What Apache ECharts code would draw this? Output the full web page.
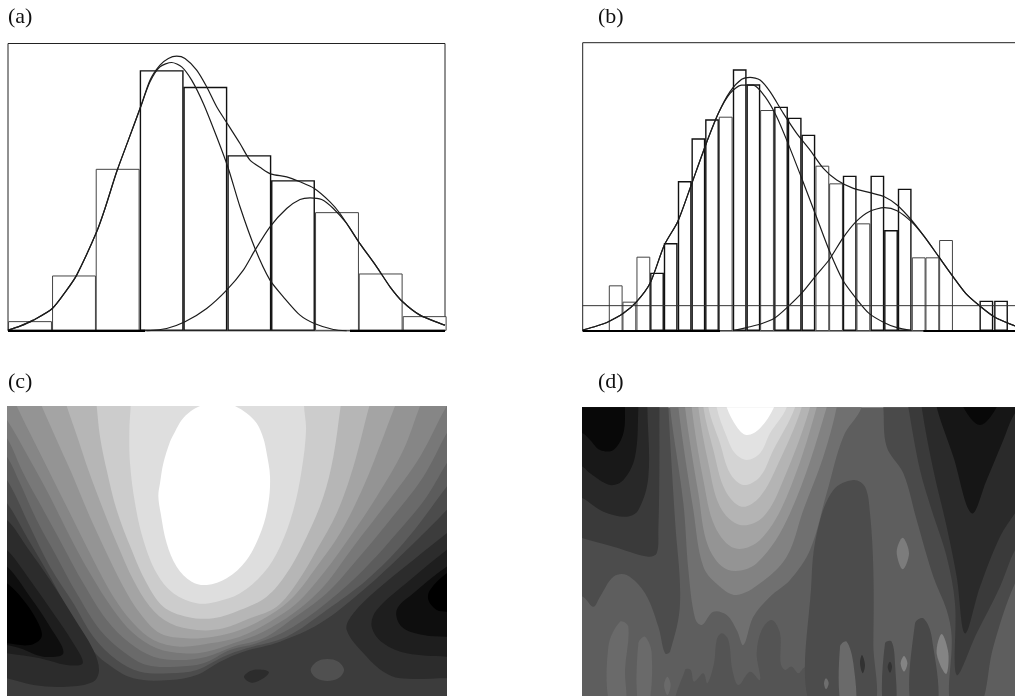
<!DOCTYPE html>
<html><head><meta charset="utf-8">
<style>html,body{margin:0;padding:0;background:#fff;overflow:hidden}#m{width:1015px;height:696px}</style>
<script src="https://cdn.jsdelivr.net/npm/echarts@6/dist/echarts.min.js"></script></head>
<body><div id="m"></div>
<script>
// Panel labels
const panelLabels=['(a)','(b)','(c)','(d)'];
// Histogram (a): bin centres and heights
const binsA=[66,198,329,461,592,724,855,987,1118,1250];
const countsA=[29,166,486,782,732,527,452,356,172,44];
const strongBinsA=[3,4,5,6];
// Curves (a): [x,y]
const totalA=[0,2,36,14,76,32,133,67,176,122,206,167,266,297,291,367,326,477,361,572,398,672,426,752,456,797,481,817,506,824,531,817,566,782,596,732,626,672,661,617,696,562,726,512,761,487,790,470,836,462,876,447,919,427,966,387,996,352,1052,267,1106,192,1146,132,1184,87,1236,47,1311,17];
const compA1=[0,2,36,14,76,32,133,67,176,122,206,167,266,297,291,367,326,477,361,572,398,672,426,747,456,792,491,805,521,792,551,752,586,682,626,582,661,487,696,372,741,247,786,152,826,102,876,47,919,22,976,4,1016,0];
const compA2=[416,0,476,7,531,27,596,67,656,122,706,182,741,242,786,312,836,367,876,394,906,399,941,394,976,367,1016,322,1052,267,1106,192,1146,132,1184,87,1236,47,1311,17];
const baseA=[0,0,411,0,null,null,1026,0,1311,0];
// Histogram (b)
const binsB=[99,140,182,223,264,306,347,388,429,471,512,553,595,636,677,719,760,801,842,884,925,966,1008,1049,1090,1211,1255];
const countsB=[137,88,223,175,264,450,578,635,643,785,740,663,673,640,589,496,443,466,323,466,303,427,221,221,273,91,91];
const strongBinsB=[3,4,5,6,7,9,10,12,13,14,17,19,20,21,25,26];
const totalB=[0,3,42,15,77,28,122,53,162,88,202,143,245,258,285,328,322,428,367,553,407,653,442,718,477,755,502,761,532,753,562,718,602,653,642,593,682,543,722,488,762,453,812,428,862,415,905,403,943,378,986,333,1025,283,1068,223,1111,163,1149,113,1188,78,1234,43,1297,15];
const compB1=[0,3,42,15,77,28,122,53,162,88,202,143,245,258,285,328,322,428,367,553,407,653,442,713,477,738,512,738,547,703,582,643,616,563,661,448,701,343,739,243,780,153,820,98,859,53,905,25,943,10,986,1];
const compB2=[452,1,495,11,534,21,575,38,616,73,661,118,701,168,739,213,780,278,820,328,859,358,905,370,943,361,986,328,1025,283,1068,223,1111,163,1149,113,1188,78,1234,43,1297,15];
const thresholdB=[0,76,1350,76];
const baseB=[0,0,412,0,null,null,1022,0,1350,0];
// Contour regions (c): flat x,y lists along the level boundary
const c05=[-40,340,21,400,80,500,150,620,210,730,270,830,320,880,400,925,510,930,590,915,660,875,730,845,840,815,960,760,1090,660,1220,540,1340,420,1400,350,1400,40,-40,40];
const c06=[-40,260,21,330,90,470,150,590,220,700,280,800,350,870,420,905,510,910,590,900,670,860,740,835,860,800,980,720,1100,630,1210,520,1340,350,1400,270,1400,40,-40,40];
const c07=[-40,190,21,260,60,340,110,450,170,560,230,670,300,780,370,845,440,885,530,890,610,880,690,840,770,820,880,770,990,690,1090,600,1190,490,1280,380,1340,280,1400,190,1400,40,-40,40];
const c08=[-40,130,21,205,70,310,130,420,190,530,250,640,320,750,390,820,460,860,540,870,620,860,700,830,790,805,880,745,980,670,1070,570,1170,450,1270,320,1340,190,1400,90,1400,40,-40,40];
const c09=[-40,70,21,150,90,270,150,380,210,500,270,610,340,720,400,790,470,835,550,850,620,845,700,820,790,785,880,730,970,650,1060,530,1160,400,1260,260,1340,108,1400,20,-40,20];
const c10=[30,60,50,108,105,220,160,330,220,450,280,570,340,680,400,760,460,810,540,830,630,820,720,800,810,755,890,700,970,610,1050,500,1130,380,1210,240,1260,108,1290,40];
const c11=[105,60,125,108,170,210,215,310,265,430,320,550,370,650,420,730,480,790,560,805,640,800,720,780,810,735,880,680,950,590,1020,490,1090,350,1150,200,1185,108,1205,60];
const c12=[185,60,200,108,235,210,265,300,310,420,355,530,400,630,450,710,510,760,590,780,670,775,750,745,830,710,890,640,950,540,1010,430,1060,290,1108,108,1125,60];
const c13=[285,60,290,108,300,200,320,300,350,420,395,540,440,640,490,710,560,740,640,745,720,720,800,680,860,610,920,500,970,380,1000,260,1022,108,1030,60];
const c14=[392,60,392,108,388,180,390,280,405,400,430,510,470,610,520,670,590,700,650,695,720,670,790,610,840,530,880,420,905,300,918,180,912,108,912,60];
const c15=[650,85,600,108,570,125,545,150,525,185,510,215,490,280,480,340,475,378,482,430,500,520,530,590,575,635,620,645,680,625,740,570,785,480,805,400,810,320,800,250,790,205,770,160,740,130,705,108];
const cL3=[-40,420,21,450,80,530,150,630,220,740,280,840,297,900,280,935,200,950,100,945,21,925,-40,915];
const cL2=[-40,500,21,540,90,630,160,730,220,820,248,880,200,885,120,865,21,850,-40,840];
const cL1=[-40,560,21,590,90,680,150,770,190,850,130,860,60,835,21,825,-40,815];
const cL0=[-40,610,21,640,70,690,110,750,125,800,90,825,21,820,-40,815];
const cR3=[1400,440,1340,490,1240,570,1130,660,1060,730,1040,780,1100,860,1150,905,1200,925,1340,925,1400,925];
const cR2=[1400,500,1340,540,1230,630,1130,720,1115,770,1150,820,1220,850,1340,860,1400,860];
const cR1=[1400,560,1340,590,1240,670,1190,720,1205,770,1270,795,1340,800,1400,800];
const cR0=[1400,580,1340,610,1290,660,1285,690,1310,720,1340,725,1400,730];
const cSpotA=[932,900,950,875,982,867,1015,875,1032,900,1015,925,982,933,950,925];
const cSpotB=[732,920,760,900,806,905,790,925,755,938];
const cBack=[-40,40,1400,40,1400,1040,-40,1040];
const contourC=[[cBack,60],[c05,76],[c06,92],[c07,106],[c08,120],[c09,134],[c10,148],[c11,164],[c12,182],[c13,204],[c14,222],[c15,255],[cL3,44],[cL2,30],[cL1,14],[cL0,0],[cR3,44],[cR2,30],[cR1,14],[cR0,0],[cSpotA,80],[cSpotB,44]];
// Contour regions (d)
const dBack=[-40,40,1400,40,1400,1040,-40,1040];
const dLeft4=[-40,40,295,40,295,112,315,450,330,700,300,845,285,850,265,770,225,670,170,615,130,620,90,680,70,710,38,680,-40,660];
const dLeft3=[-40,40,268,40,268,112,268,300,265,480,260,550,235,560,130,530,38,505,-40,480];
const dLeft2=[-40,40,232,40,232,112,235,320,205,420,170,440,100,425,38,385,-40,350];
const dLeft1=[-40,40,205,40,205,112,195,260,160,330,120,345,60,310,38,290,-40,250];
const dLeft0=[-40,40,165,40,165,112,160,190,130,240,90,240,60,210,38,190,-40,160];
const dFingerA=[120,1010,115,830,150,755,175,770,165,900,165,1010];
const dFingerB=[205,1010,205,820,225,800,245,850,235,1010];
const dStrip=[325,1020,345,900,362,900,372,935,400,910,412,940,432,880,440,810,455,790,475,810,487,900,505,945,540,905,570,930,560,850,575,780,605,750,630,790,632,880,645,900,665,890,685,910,700,895,725,880,730,1020];
const dPillar=[725,1020,725,620,745,470,790,360,850,330,885,350,900,430,910,600,910,820,905,1020];
const dBand2=[300,40,300,112,340,400,355,600,375,745,395,765,430,725,470,735,500,780,520,825,550,740,600,680,660,630,720,540,770,370,820,200,875,112,880,40];
const dBand3=[325,40,325,112,370,420,400,590,450,650,500,675,570,640,650,560,700,420,760,260,800,112,805,40];
const dBand4=[345,40,345,112,385,370,415,530,475,600,560,580,660,430,770,112,775,40];
const dBand5=[365,40,365,112,400,330,435,470,495,535,570,510,650,380,740,112,745,40];
const dBand6=[385,40,385,112,415,280,450,410,510,465,580,440,640,330,720,112,725,40];
const dBand7=[400,40,400,112,430,240,465,360,515,410,570,380,625,280,695,112,700,40];
const dBand8=[415,40,415,112,450,220,480,310,520,345,570,320,610,240,675,112,680,40];
const dBand9=[440,40,440,112,470,200,495,250,530,270,570,250,600,190,650,112,655,40];
const dWhite=[460,60,470,112,500,170,530,195,570,175,612,112,625,60];
const dV1=[935,40,940,112,950,230,1000,310,1040,450,1090,620,1130,720,1145,800,1145,1020,1225,1020,1270,830,1335,640,1400,540,1400,40];
const dV2=[1005,40,1015,112,1050,300,1085,420,1130,560,1155,700,1160,915,1220,790,1290,650,1335,540,1400,440,1400,40];
const dV3=[1050,40,1055,112,1090,300,1130,470,1160,620,1185,790,1230,650,1290,500,1335,430,1400,330,1400,40];
const dV4=[1090,40,1100,112,1150,260,1205,430,1250,330,1300,210,1335,130,1400,60,1400,40];
const dV5=[1170,60,1180,112,1230,165,1280,112,1290,60];
const dSpotA=[980,545,998,503,1017,550,998,598];
const dSpotB=[1100,850,1115,792,1135,850,1128,912];
const dSpotC=[992,880,1002,858,1012,880,1002,905];
const dDarkA=[940,1020,945,820,965,815,975,880,975,1020];
const dDarkB=[1025,1020,1035,760,1060,745,1085,800,1100,1020];
const dLightA=[815,1020,810,830,830,815,850,880,855,1020];
const dSpotD=[870,880,876,855,885,885,878,910];
const dSpotE=[953,890,960,875,966,890,960,908];
const dSpotF=[282,945,292,920,302,945,292,975];
const dSpotG=[762,940,768,925,776,940,768,958];
const contourD=[[dBack,94],[dFingerA,106],[dFingerB,106],[dSpotF,106],[dLeft4,76],[dLeft3,58],[dLeft2,40],[dLeft1,24],[dLeft0,8],[dStrip,84],[dPillar,76],[dBand2,112],[dBand3,130],[dBand4,148],[dBand5,164],[dBand6,180],[dBand7,196],[dBand8,212],[dBand9,226],[dWhite,255],[dV1,74],[dV2,58],[dV3,42],[dV4,22],[dV5,8],[dSpotA,124],[dSpotB,132],[dSpotC,132],[dDarkA,70],[dDarkB,72],[dLightA,106],[dSpotD,50],[dSpotE,50],[dSpotG,110]];

const pairs=f=>{const o=[];for(let i=0;i<f.length;i+=2)o.push([f[i],f[i+1]]);return o;};
const lineS=(d,i,color,w)=>({type:'line',xAxisIndex:i,yAxisIndex:i,data:pairs(d),smooth:0.25,symbol:'none',z:5,animation:false,connectNulls:false,lineStyle:{color:color||'#1c1c1c',width:w||1.2}});
const straight=(d,i,color,w)=>Object.assign(lineS(d,i,color,w),{smooth:false,z:6});
const barS=(x,y,strong,i,w)=>({type:'bar',xAxisIndex:i,yAxisIndex:i,barWidth:w,clip:false,z:2,animation:false,
  data:x.map((v,k)=>({value:[v,y[k]],itemStyle:{color:'#fff',borderColor:strong.includes(k)?'#111':'#444',borderWidth:strong.includes(k)?1.4:1}}))});
const contourS=(list,i)=>({type:'custom',xAxisIndex:i,yAxisIndex:i,clip:true,animation:false,silent:true,
  data:list.map((p,k)=>[p[0][0],p[0][1],k]),encode:{x:0,y:1},
  renderItem:(params,api)=>{const e=list[params.dataIndex];const g=e[1];
    return {type:'polygon',shape:{points:pairs(e[0]).map(q=>api.coord(q)),smooth:0.35},style:{fill:`rgb(${g},${g},${g})`,stroke:null}};}});

const gridOpts=[
 {left:8,top:43.5,width:437,height:287.3,show:true,borderColor:'#222',borderWidth:1,backgroundColor:'#fff',outerBoundsMode:'none'},
 {left:582.7,top:42.7,width:450,height:288.3,show:true,borderColor:'#222',borderWidth:1,backgroundColor:'#fff',outerBoundsMode:'none'},
 {left:7,top:406,width:439.7,height:290,outerBoundsMode:'none'},
 {left:582.7,top:407.3,width:432.3,height:288.7,outerBoundsMode:'none'}];
const ax=(type,min,max,i,inv)=>({type:'value',min,max,gridIndex:i,show:false,inverse:!!inv});
const opt={animation:false,backgroundColor:'#fff',
 title:panelLabels.map((t,i)=>({text:t,left:[8,598,8,598][i],top:[6,6,371,371][i],padding:0,textStyle:{fontFamily:'Liberation Serif',fontSize:22,fontWeight:'normal',color:'#111'}})),
 grid:gridOpts,
 xAxis:[ax('v',0,1311,0),ax('v',0,1350,1),ax('v',21,1340,2),ax('v',38,1335,3)],
 yAxis:[ax('v',0,862,0),ax('v',0,865,1),ax('v',108,978,2,true),ax('v',112,978,3,true)],
 series:[
  barS(binsA,countsA,strongBinsA,0,43.9),lineS(totalA,0),lineS(compA1,0),lineS(compA2,0),straight(baseA,0,'#000',2.2),
  barS(binsB,countsB,strongBinsB,1,13.8),lineS(totalB,1),lineS(compB1,1),lineS(compB2,1),straight(thresholdB,1,'#333',1),straight(baseB,1,'#000',2.2),
  contourS(contourC,2),contourS(contourD,3)]};
echarts.init(document.getElementById('m'),null,{renderer:'canvas'}).setOption(opt);
</script></body></html>
